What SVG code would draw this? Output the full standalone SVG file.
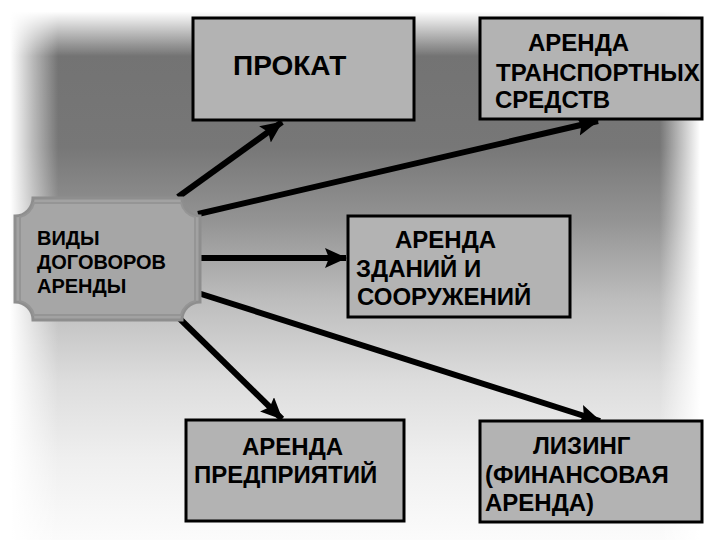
<svg xmlns="http://www.w3.org/2000/svg" width="720" height="540" viewBox="0 0 720 540">
  <defs>
    <linearGradient id="bgGrad" x1="0" y1="0" x2="0" y2="1">
      <stop offset="0.056" stop-color="#727272"/>
      <stop offset="0.272" stop-color="#777777"/>
      <stop offset="0.406" stop-color="#939393"/>
      <stop offset="0.556" stop-color="#bdbdbd"/>
      <stop offset="0.707" stop-color="#dddddd"/>
      <stop offset="0.848" stop-color="#efefef"/>
      <stop offset="1" stop-color="#fbfbfb"/>
    </linearGradient>
    <linearGradient id="fadeL" x1="0" y1="0" x2="1" y2="0">
      <stop offset="0.17" stop-color="#ffffff" stop-opacity="1"/>
      <stop offset="0.55" stop-color="#ffffff" stop-opacity="0.5"/>
      <stop offset="0.97" stop-color="#ffffff" stop-opacity="0"/>
    </linearGradient>
    <linearGradient id="fadeR" x1="0" y1="0" x2="1" y2="0">
      <stop offset="0.03" stop-color="#ffffff" stop-opacity="0"/>
      <stop offset="0.35" stop-color="#ffffff" stop-opacity="0.5"/>
      <stop offset="0.68" stop-color="#ffffff" stop-opacity="1"/>
    </linearGradient>
    <linearGradient id="fadeT" x1="0" y1="0" x2="0" y2="1">
      <stop offset="0.2" stop-color="#ffffff" stop-opacity="1"/>
      <stop offset="0.58" stop-color="#ffffff" stop-opacity="0.5"/>
      <stop offset="0.97" stop-color="#ffffff" stop-opacity="0"/>
    </linearGradient>
    <marker id="arrow" markerUnits="userSpaceOnUse" markerWidth="24" markerHeight="22" refX="21" refY="10" orient="auto">
      <path d="M0,0 L22,10 L0,20 L4,10 Z" fill="#000"/>
    </marker>
    <style>
      .box { fill: #b3b3b3; stroke: #000; stroke-width: 3; }
      .lbl { font-family: "Liberation Sans", Arial, sans-serif; font-weight: bold; font-size: 24px; fill: #000; }
      .conn { stroke: #000; stroke-width: 6; fill: none; marker-end: url(#arrow); }
    </style>
  </defs>

  <rect x="0" y="0" width="720" height="540" fill="url(#bgGrad)"/>
  <rect x="0" y="0" width="60" height="540" fill="url(#fadeL)"/>
  <rect x="658" y="0" width="62" height="540" fill="url(#fadeR)"/>
  <rect x="0" y="0" width="720" height="58" fill="url(#fadeT)"/>

  <g id="connectors">
    <line class="conn" x1="178" y1="197" x2="282" y2="122"/>
    <line class="conn" x1="198" y1="214" x2="598" y2="121"/>
    <line class="conn" x1="200" y1="258" x2="346" y2="258"/>
    <line class="conn" x1="198" y1="293" x2="600" y2="421"/>
    <line class="conn" x1="179" y1="318" x2="282" y2="419"/>
  </g>

  <g id="center">
    <path d="M33,198 L182,198 A18,18 0 0 0 200,216 L200,302 A18,18 0 0 0 182,320 L33,320 A18,18 0 0 0 15,302 L15,216 A18,18 0 0 0 33,198 Z" fill="#a2a2a2" stroke="#8e8e8e" stroke-width="3"/>
    <path d="M34,203 L181,203 A19,19 0 0 0 195,217 L195,301 A19,19 0 0 0 181,315 L34,315 A19,19 0 0 0 20,301 L20,217 A19,19 0 0 0 34,203 Z" fill="#a6a6a6" stroke="#959595" stroke-width="2"/>
    <text class="lbl" style="font-size:20px" x="37" y="245">ВИДЫ</text>
    <text class="lbl" style="font-size:20px" x="37" y="269">ДОГОВОРОВ</text>
    <text class="lbl" style="font-size:20px" x="37" y="293">АРЕНДЫ</text>
  </g>

  <g id="prokat">
    <rect class="box" x="193" y="18" width="221" height="102"/>
    <text class="lbl" style="font-size:28px" x="233" y="75">ПРОКАТ</text>
  </g>

  <g id="transport">
    <rect class="box" x="480" y="18" width="222" height="101"/>
    <text class="lbl" x="528" y="51">АРЕНДА</text>
    <text class="lbl" x="496" y="81">ТРАНСПОРТНЫХ</text>
    <text class="lbl" x="495" y="108">СРЕДСТВ</text>
  </g>

  <g id="buildings">
    <rect class="box" x="348" y="216" width="222" height="101"/>
    <text class="lbl" x="395" y="248">АРЕНДА</text>
    <text class="lbl" x="356" y="277">ЗДАНИЙ И</text>
    <text class="lbl" x="357" y="305">СООРУЖЕНИЙ</text>
  </g>

  <g id="enterprises">
    <rect class="box" x="186" y="420" width="218" height="101"/>
    <text class="lbl" x="242" y="455">АРЕНДА</text>
    <text class="lbl" x="194" y="483">ПРЕДПРИЯТИЙ</text>
  </g>

  <g id="leasing">
    <rect class="box" x="480" y="421" width="222" height="101"/>
    <text class="lbl" x="533" y="454">ЛИЗИНГ</text>
    <text class="lbl" x="485" y="483">(ФИНАНСОВАЯ</text>
    <text class="lbl" x="485" y="511">АРЕНДА)</text>
  </g>
</svg>
